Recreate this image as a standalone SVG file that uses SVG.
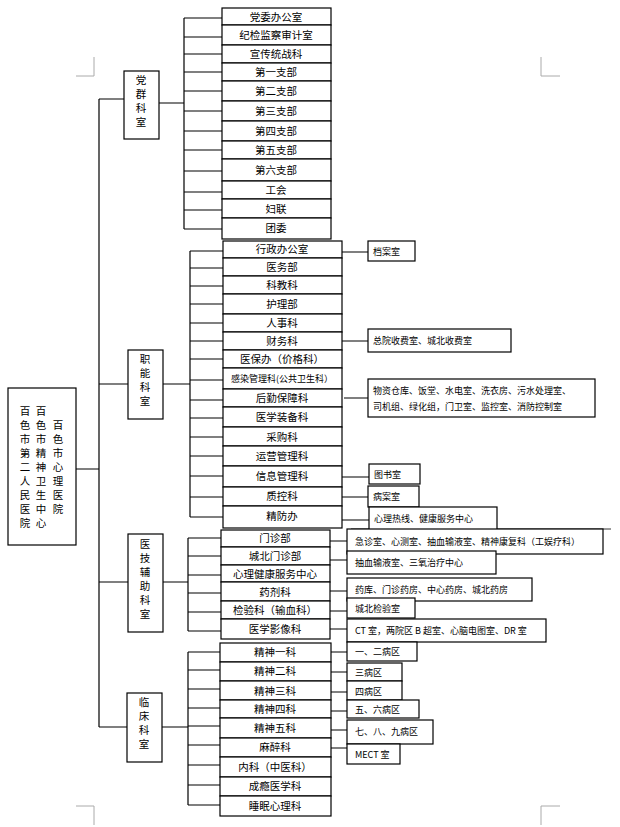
<svg xmlns="http://www.w3.org/2000/svg" width="620" height="827" viewBox="0 0 620 827">
<style>
rect{fill:#fff;stroke:#000;stroke-width:1.2}
line,path{stroke:#000;stroke-width:1.2;fill:none}
text{font-family:"Noto Sans CJK SC","Liberation Sans",sans-serif;font-size:10.5px;fill:#000}
.c{text-anchor:middle}
.s{font-size:9px}
.g{stroke:#aaa;stroke-width:1}
</style>
<rect width="620" height="827" style="stroke:none"/>
<g id="marks">
<path class="g" d="M76 76H94V57M541 57V76H560M76 806H94V825M541 825V806H560"/>
</g>
<g id="connectors">
<path d="M76 469H99M99 99V727M99 99H124M99 384H128M99 582H128M99 727H127"/>
<path d="M159 103H184M184 18V229M184 18H222M184 37H222M184 54H222M184 72H222M184 91H222M184 111H222M184 131H222M184 150H222M184 171H222M184 192H222M184 210H222M184 229H222"/>
<path d="M163 384H190M190 251V517M190 251H223M190 268H223M190 286H223M190 304H223M190 323H223M190 341H223M190 359H223M190 380H223M190 400H223M190 418H223M190 437H223M190 456H223M190 476H223M190 497H223M190 517H223"/>
<path d="M342 252H368M342 341H368M344 398H368M342 477H369M342 497H368M342 520H369"/>
<path d="M351 529H611" style="stroke-width:0.8"/>
<path d="M163 582H188M188 538V631M188 538H221M188 556H221M188 575H221M188 593H221M188 612H221M188 631H221"/>
<path d="M330 541H347M330 560H347M330 591H347M330 611H347M330 629H347"/>
<path d="M162 727H188M188 652V805M188 652H220M188 670H220M188 689H220M188 708H220M188 726H220M188 745H220M188 765H220M188 785H220M188 805H220"/>
<path d="M331 652H347M331 672H347M331 692H347M331 711H347M331 730H347M331 748H347"/>
</g>
<g id="root">
<rect x="8" y="388" width="68" height="157"/>
<text x="25" y="415" class="c">百</text><text x="25" y="429" class="c">色</text><text x="25" y="443" class="c">市</text><text x="25" y="457" class="c">第</text><text x="25" y="471" class="c">二</text><text x="25" y="485" class="c">人</text><text x="25" y="499" class="c">民</text><text x="25" y="513" class="c">医</text><text x="25" y="527" class="c">院</text>
<text x="41" y="415" class="c">百</text><text x="41" y="429" class="c">色</text><text x="41" y="443" class="c">市</text><text x="41" y="457" class="c">精</text><text x="41" y="471" class="c">神</text><text x="41" y="485" class="c">卫</text><text x="41" y="499" class="c">生</text><text x="41" y="513" class="c">中</text><text x="41" y="527" class="c">心</text>
<text x="58" y="429" class="c">百</text><text x="58" y="443" class="c">色</text><text x="58" y="457" class="c">市</text><text x="58" y="471" class="c">心</text><text x="58" y="485" class="c">理</text><text x="58" y="499" class="c">医</text><text x="58" y="513" class="c">院</text>
</g>
<g id="dangqun">
<rect x="124" y="71" width="35" height="68"/>
<text x="141" y="84" class="c">党</text><text x="141" y="98" class="c">群</text><text x="141" y="112" class="c">科</text><text x="141" y="126" class="c">室</text>
</g>
<g id="dangqun-items">
<rect x="222" y="8" width="109" height="17"/><text x="276" y="21" class="c">党委办公室</text>
<rect x="222" y="25" width="109" height="20"/><text x="276" y="39" class="c">纪检监察审计室</text>
<rect x="222" y="45" width="109" height="18"/><text x="276" y="58" class="c">宣传统战科</text>
<rect x="222" y="63" width="109" height="18"/><text x="276" y="76" class="c">第一支部</text>
<rect x="222" y="81" width="109" height="20"/><text x="276" y="95" class="c">第二支部</text>
<rect x="222" y="101" width="109" height="20"/><text x="276" y="115" class="c">第三支部</text>
<rect x="222" y="121" width="109" height="20"/><text x="276" y="135" class="c">第四支部</text>
<rect x="222" y="141" width="109" height="18"/><text x="276" y="154" class="c">第五支部</text>
<rect x="222" y="159" width="109" height="22"/><text x="276" y="174" class="c">第六支部</text>
<rect x="222" y="181" width="109" height="18"/><text x="276" y="194" class="c">工会</text>
<rect x="222" y="199" width="109" height="19"/><text x="276" y="213" class="c">妇联</text>
<rect x="222" y="218" width="109" height="21"/><text x="276" y="232" class="c">团委</text>
</g>
<g id="zhineng">
<rect x="128" y="350" width="35" height="69"/>
<text x="145" y="363" class="c">职</text><text x="145" y="377" class="c">能</text><text x="145" y="391" class="c">科</text><text x="145" y="405" class="c">室</text>
</g>
<g id="zhineng-items">
<rect x="223" y="241" width="119" height="17"/><text x="282" y="253" class="c">行政办公室</text>
<rect x="223" y="258" width="119" height="18"/><text x="282" y="271" class="c">医务部</text>
<rect x="223" y="276" width="119" height="18"/><text x="282" y="289" class="c">科教科</text>
<rect x="223" y="294" width="119" height="20"/><text x="282" y="308" class="c">护理部</text>
<rect x="223" y="314" width="119" height="18"/><text x="282" y="327" class="c">人事科</text>
<rect x="223" y="332" width="119" height="18"/><text x="282" y="345" class="c">财务科</text>
<rect x="223" y="350" width="119" height="18"/><text x="282" y="363" class="c">医保办（价格科）</text>
<rect x="223" y="368" width="119" height="21"/><text x="282" y="382" class="c s">感染管理科(公共卫生科）</text>
<rect x="223" y="389" width="119" height="18"/><text x="282" y="402" class="c">后勤保障科</text>
<rect x="223" y="407" width="119" height="20"/><text x="282" y="421" class="c">医学装备科</text>
<rect x="223" y="427" width="119" height="19"/><text x="282" y="441" class="c">采购科</text>
<rect x="223" y="446" width="119" height="20"/><text x="282" y="460" class="c">运营管理科</text>
<rect x="223" y="466" width="119" height="21"/><text x="282" y="480" class="c">信息管理科</text>
<rect x="223" y="487" width="119" height="19"/><text x="282" y="500" class="c">质控科</text>
<rect x="223" y="506" width="119" height="22"/><text x="282" y="520" class="c">精防办</text>
</g>
<g id="zhineng-sub">
<rect x="368" y="241" width="47" height="20"/><text x="373" y="255" class="s">档案室</text>
<rect x="368" y="329" width="143" height="23"/><text x="373" y="344" class="s">总院收费室、城北收费室</text>
<rect x="368" y="379" width="227" height="38"/><text x="373" y="394" class="s">物资仓库、饭堂、水电室、洗衣房、污水处理室、</text><text x="373" y="410" class="s">司机组、绿化组，门卫室、监控室、消防控制室</text>
<rect x="369" y="464" width="51" height="20"/><text x="374" y="478" class="s">图书室</text>
<rect x="368" y="486" width="51" height="21"/><text x="373" y="500" class="s">病案室</text>
<rect x="369" y="507" width="128" height="23"/><text x="374" y="522" class="s">心理热线、健康服务中心</text>
</g>
<g id="yiji">
<rect x="128" y="534" width="35" height="98"/>
<text x="145" y="548" class="c">医</text><text x="145" y="562" class="c">技</text><text x="145" y="576" class="c">辅</text><text x="145" y="590" class="c">助</text><text x="145" y="604" class="c">科</text><text x="145" y="618" class="c">室</text>
</g>
<g id="yiji-items">
<rect x="221" y="530" width="109" height="17"/><text x="275" y="542" class="c">门诊部</text>
<rect x="221" y="547" width="109" height="18"/><text x="275" y="560" class="c">城北门诊部</text>
<rect x="221" y="565" width="109" height="17"/><text x="275" y="578" class="c">心理健康服务中心</text>
<rect x="221" y="582" width="109" height="19"/><text x="275" y="596" class="c">药剂科</text>
<rect x="221" y="601" width="109" height="18"/><text x="275" y="614" class="c">检验科（输血科）</text>
<rect x="221" y="619" width="109" height="20"/><text x="275" y="633" class="c">医学影像科</text>
</g>
<g id="yiji-sub">
<rect x="347" y="529" width="256" height="25"/><text x="355" y="545" class="s">急诊室、心测室、抽血输液室、精神康复科（工娱疗科）</text>
<rect x="347" y="551" width="149" height="23"/><text x="355" y="566" class="s">抽血输液室、三氧治疗中心</text>
<rect x="347" y="578" width="185" height="23"/><text x="355" y="593" class="s">药库、门诊药房、中心药房、城北药房</text>
<rect x="347" y="598" width="68" height="20"/><text x="355" y="612" class="s">城北检验室</text>
<rect x="347" y="619" width="199" height="23"/><text x="355" y="634" class="s">CT 室，两院区 B 超室、心脑电图室、DR 室</text>
</g>
<g id="linchuang">
<rect x="127" y="693" width="35" height="69"/>
<text x="144" y="706" class="c">临</text><text x="144" y="720" class="c">床</text><text x="144" y="734" class="c">科</text><text x="144" y="748" class="c">室</text>
</g>
<g id="linchuang-items">
<rect x="220" y="643" width="111" height="19"/><text x="275" y="656" class="c">精神一科</text>
<rect x="220" y="662" width="111" height="19"/><text x="275" y="675" class="c">精神二科</text>
<rect x="220" y="681" width="111" height="19"/><text x="275" y="695" class="c">精神三科</text>
<rect x="220" y="700" width="111" height="18"/><text x="275" y="713" class="c">精神四科</text>
<rect x="220" y="718" width="111" height="20"/><text x="275" y="732" class="c">精神五科</text>
<rect x="220" y="738" width="111" height="19"/><text x="275" y="751" class="c">麻醉科</text>
<rect x="220" y="757" width="111" height="20"/><text x="275" y="771" class="c">内科（中医科）</text>
<rect x="220" y="777" width="111" height="19"/><text x="275" y="790" class="c">成瘾医学科</text>
<rect x="220" y="796" width="111" height="20"/><text x="275" y="810" class="c">睡眠心理科</text>
</g>
<g id="linchuang-sub">
<rect x="347" y="642" width="70" height="19"/><text x="355" y="655" class="s">一、二病区</text>
<rect x="347" y="663" width="55" height="18"/><text x="355" y="676" class="s">三病区</text>
<rect x="347" y="681" width="55" height="19"/><text x="355" y="695" class="s">四病区</text>
<rect x="347" y="700" width="72" height="18"/><text x="355" y="713" class="s">五、六病区</text>
<rect x="347" y="720" width="86" height="24"/><text x="355" y="735" class="s">七、八、九病区</text>
<rect x="347" y="744" width="53" height="20"/><text x="355" y="758" class="s">MECT 室</text>
</g>
</svg>
